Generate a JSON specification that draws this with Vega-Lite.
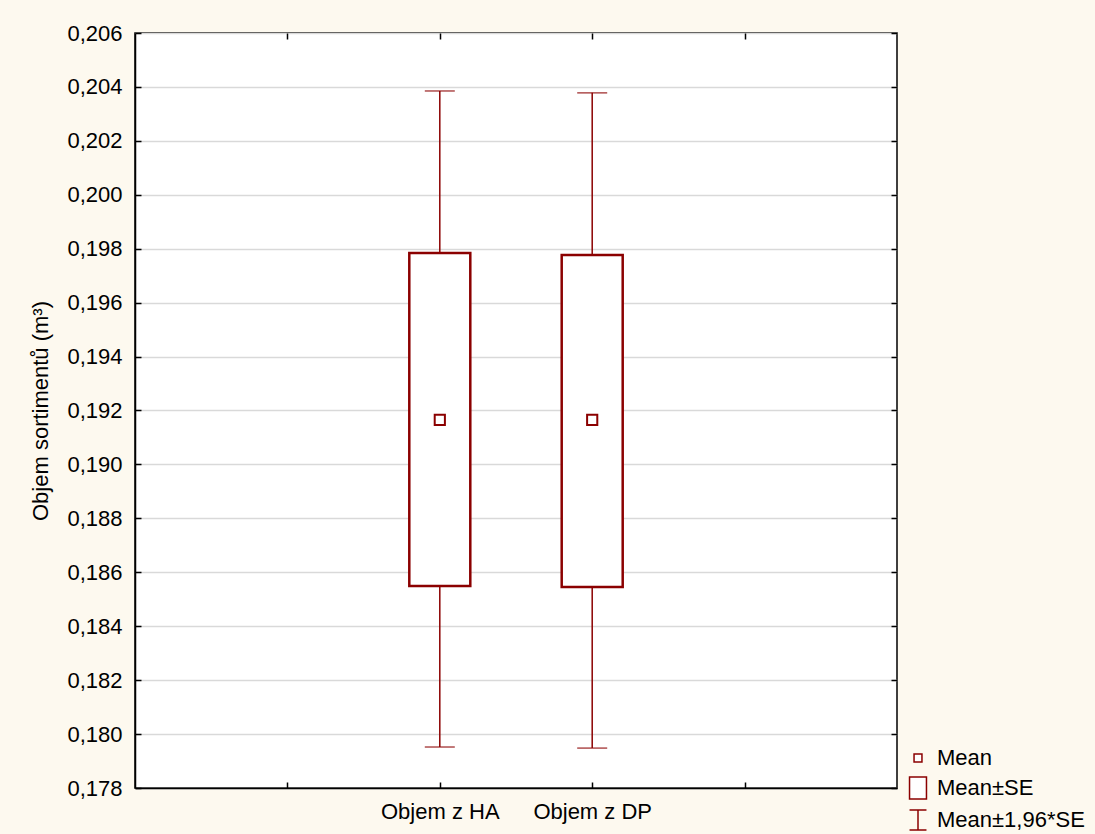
{
  "$schema": "https://vega.github.io/schema/vega-lite/v6.json",
  "width": 762,
  "height": 755,
  "autosize": {"type": "none"},
  "padding": {"left": 135, "top": 33, "right": 198, "bottom": 46},
  "background": "#FDF9EF",
  "config": {
    "view": {"stroke": "#000000", "strokeWidth": 1.5, "fill": "#FFFFFF"},
    "font": "Liberation Sans",
    "axis": {
      "labelFont": "Liberation Sans",
      "titleFont": "Liberation Sans",
      "labelColor": "#000000",
      "titleColor": "#000000",
      "tickColor": "#000000",
      "domainColor": "#000000",
      "tickSize": -6,
      "tickWidth": 1.5,
      "domainWidth": 1.5,
      "gridColor": "#D9D9D9",
      "gridWidth": 1.5
    }
  },
  "data": {
    "values": [
      {"var": "Objem z HA", "mean": 0.19165, "se_lo": 0.18549, "se_hi": 0.19784, "ci_lo": 0.17952, "ci_hi": 0.20385},
      {"var": "Objem z DP", "mean": 0.19165, "se_lo": 0.18545, "se_hi": 0.19777, "ci_lo": 0.17948, "ci_hi": 0.20378}
    ]
  },
  "layer": [
    {
      "encoding": {
        "x": {
          "field": "var",
          "type": "nominal",
          "sort": null,
          "scale": {"type": "point", "domain": [" ", "Objem z HA", "Objem z DP", "  "], "padding": 1},
          "axis": {"title": null, "labelAngle": 0, "labelFontSize": 22, "labelPadding": 19, "grid": false}
        },
        "y": {
          "type": "quantitative",
          "scale": {"domain": [0.178, 0.206], "nice": false, "zero": false}
        }
      },
      "layer": [
        {
          "mark": {"type": "rule", "color": "#8B0000", "strokeWidth": 1.5},
          "encoding": {
            "y": {
              "field": "ci_lo",
              "type": "quantitative",
              "axis": {
                "title": "Objem sortimentů (m³)",
                "titleFontSize": 22,
                "titleFontWeight": "normal",
                "titlePadding": 14,
                "labelFontSize": 22,
                "labelPadding": 19,
                "values": [0.178, 0.18, 0.182, 0.184, 0.186, 0.188, 0.19, 0.192, 0.194, 0.196, 0.198, 0.2, 0.202, 0.204, 0.206],
                "labelExpr": "replace(format(datum.value, '.3f'), '.', ',')",
                "grid": true
              }
            },
            "y2": {"field": "ci_hi"}
          }
        },
        {
          "mark": {"type": "tick", "color": "#8B0000", "size": 30, "thickness": 1.5},
          "encoding": {"y": {"field": "ci_lo", "type": "quantitative"}}
        },
        {
          "mark": {"type": "tick", "color": "#8B0000", "size": 30, "thickness": 1.5},
          "encoding": {"y": {"field": "ci_hi", "type": "quantitative"}}
        },
        {
          "mark": {"type": "bar", "width": 61, "fill": "#FFFFFF", "stroke": "#8B0000", "strokeWidth": 2.5},
          "encoding": {
            "y": {"field": "se_lo", "type": "quantitative"},
            "y2": {"field": "se_hi"}
          }
        },
        {
          "mark": {"type": "point", "filled": true, "fill": "#FFFFFF", "stroke": "#8B0000", "strokeWidth": 2, "size": 800, "opacity": 1},
          "encoding": {
            "y": {"field": "mean", "type": "quantitative"},
            "shape": {
              "datum": "Mean",
              "scale": {
                "domain": ["Mean", "Mean±SE", "Mean±1,96*SE"],
                "range": [
                  "M-0.36,-0.36H0.36V0.36H-0.36Z",
                  "M-0.77,-1H0.77V1H-0.77Z",
                  "M-0.77,-0.9H0.77M0,-0.9V0.9M-0.77,0.9H0.77"
                ]
              },
              "legend": {
                "title": null,
                "orient": "none",
                "legendX": 771,
                "legendY": 713,
                "symbolSize": 484,
                "labelFontSize": 22,
                "labelFont": "Liberation Sans",
                "labelColor": "#000000",
                "labelOffset": 7,
                "rowPadding": 5,
                "encode": {
                  "symbols": {
                    "update": {
                      "stroke": {"value": "#8B0000"},
                      "strokeWidth": {"value": 2},
                      "fill": {"value": "transparent"},
                      "opacity": {"value": 1}
                    }
                  }
                }
              }
            }
          }
        }
      ]
    },
    {
      "mark": {"type": "rule", "opacity": 0},
      "encoding": {
        "x": {
          "field": "var",
          "type": "nominal",
          "sort": null,
          "axis": {"orient": "top", "title": null, "labels": false, "grid": false, "domain": false}
        },
        "y": {
          "field": "mean",
          "type": "quantitative",
          "axis": {
            "orient": "right",
            "title": null,
            "labels": false,
            "grid": false,
            "domain": false,
            "values": [0.178, 0.18, 0.182, 0.184, 0.186, 0.188, 0.19, 0.192, 0.194, 0.196, 0.198, 0.2, 0.202, 0.204, 0.206]
          }
        }
      }
    }
  ],
  "resolve": {"axis": {"x": "independent", "y": "independent"}}
}
